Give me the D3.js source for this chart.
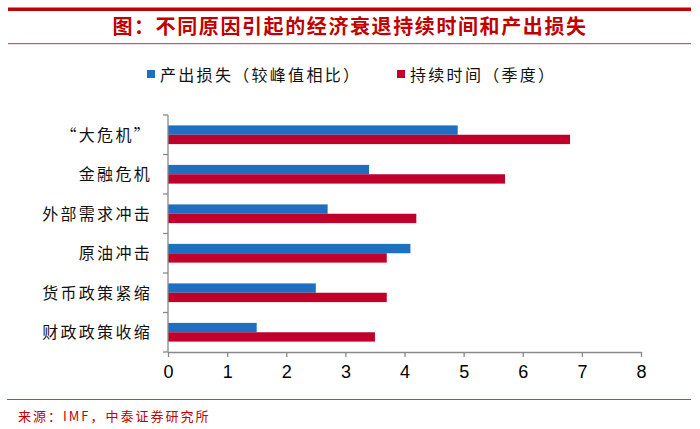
<!DOCTYPE html>
<html>
<head>
<meta charset="utf-8">
<script src="https://cdn.jsdelivr.net/npm/d3@7"></script>
<style>
html,body{margin:0;padding:0;background:#fff;}
svg{display:block;}
</style>
</head>
<body>
<svg id="chart" width="700" height="429"></svg>
<script>
const title = "图：不同原因引起的经济衰退持续时间和产出损失";
const source = "来源：IMF，中泰证券研究所";
const categories = ["“大危机”", "金融危机", "外部需求冲击", "原油冲击", "货币政策紧缩", "财政政策收缩"];
const seriesNames = ["产出损失（较峰值相比）", "持续时间（季度）"];
const outputLoss = [4.9, 3.4, 2.7, 4.1, 2.5, 1.5];
const duration = [6.8, 5.7, 4.2, 3.7, 3.7, 3.5];
const xTicks = [0, 1, 2, 3, 4, 5, 6, 7, 8];
const colors = ["#1f6fc1", "#c0002b"];

const svg = d3.select("#chart");
const cjk = "'Noto Sans CJK SC', sans-serif";

// header lines
svg.append("rect").attr("x", 8).attr("y", 7.5).attr("width", 683).attr("height", 3.5).attr("fill", "#c00000");
svg.append("rect").attr("x", 8).attr("y", 43).attr("width", 683).attr("height", 1.2).attr("fill", "#c9585a");
svg.append("text").attr("x", 350).attr("y", 34).attr("text-anchor", "middle")
  .attr("font-family", cjk).attr("font-weight", "bold").attr("font-size", 20)
  .attr("letter-spacing", 1.6).attr("fill", "#c00000").text(title);

// footer
svg.append("rect").attr("x", 7).attr("y", 399).attr("width", 684).attr("height", 1).attr("fill", "#d23b3b");
svg.append("text").attr("x", 18).attr("y", 421).attr("font-family", cjk).attr("font-size", 13)
  .attr("letter-spacing", 2).attr("fill", "#c00000").text(source);

// scales
const x = d3.scaleLinear().domain([0, 8]).range([168, 641]);
const y = d3.scaleBand().domain(categories).range([115, 352]).padding(0);
const y1 = d3.scaleBand().domain(seriesNames).range([0, y.bandwidth()]).paddingInner(0).paddingOuter(1.11);

const rows = categories.map((c, i) => ({cat: c, vals: [outputLoss[i], duration[i]]}));

const g = svg.append("g");
rows.forEach(r => {
  r.vals.forEach((v, j) => {
    g.append("rect")
      .attr("x", x(0))
      .attr("y", y(r.cat) + y1(seriesNames[j]))
      .attr("width", x(v) - x(0))
      .attr("height", y1.bandwidth())
      .attr("fill", colors[j]);
  });
});

// y axis
const axisColor = "#898989";
svg.append("line").attr("x1", x(0)).attr("x2", x(0)).attr("y1", 115).attr("y2", 352)
  .attr("stroke", axisColor).attr("stroke-width", 1.3);
const bounds = categories.map(c => y(c)).concat([y.range()[1]]);
svg.selectAll(".ytick").data(bounds).enter().append("line")
  .attr("x1", x(0) - 5).attr("x2", x(0)).attr("y1", d => d).attr("y2", d => d)
  .attr("stroke", axisColor).attr("stroke-width", 1.3);
svg.selectAll(".ylab").data(categories).enter().append("text")
  .attr("x", 152).attr("y", d => y(d) + y.bandwidth() / 2 + 6)
  .attr("text-anchor", "end").attr("font-family", cjk).attr("font-size", 16)
  .attr("letter-spacing", 2.3).attr("fill", "#111").text(d => d);

// x axis
const xAxis = d3.axisBottom(x).tickValues(xTicks).tickSize(5).tickSizeOuter(0).tickPadding(8);
const xg = svg.append("g").attr("transform", "translate(0,352)").call(xAxis);
xg.select(".domain").attr("stroke", axisColor).attr("stroke-width", 1.3);
xg.selectAll(".tick line").attr("stroke", axisColor).attr("stroke-width", 1.3);
xg.selectAll(".tick text").attr("font-family", "'Liberation Sans', Arial, sans-serif")
  .attr("font-size", 18).attr("fill", "#000");

// legend
const legendX = [147, 397];
seriesNames.forEach((s, j) => {
  svg.append("rect").attr("x", legendX[j]).attr("y", 70).attr("width", 8).attr("height", 8).attr("fill", colors[j]);
  svg.append("text").attr("x", legendX[j] + 13).attr("y", 81).attr("font-family", cjk).attr("font-size", 16)
    .attr("letter-spacing", 2.3).attr("fill", "#111").text(s);
});
</script>
</body>
</html>
